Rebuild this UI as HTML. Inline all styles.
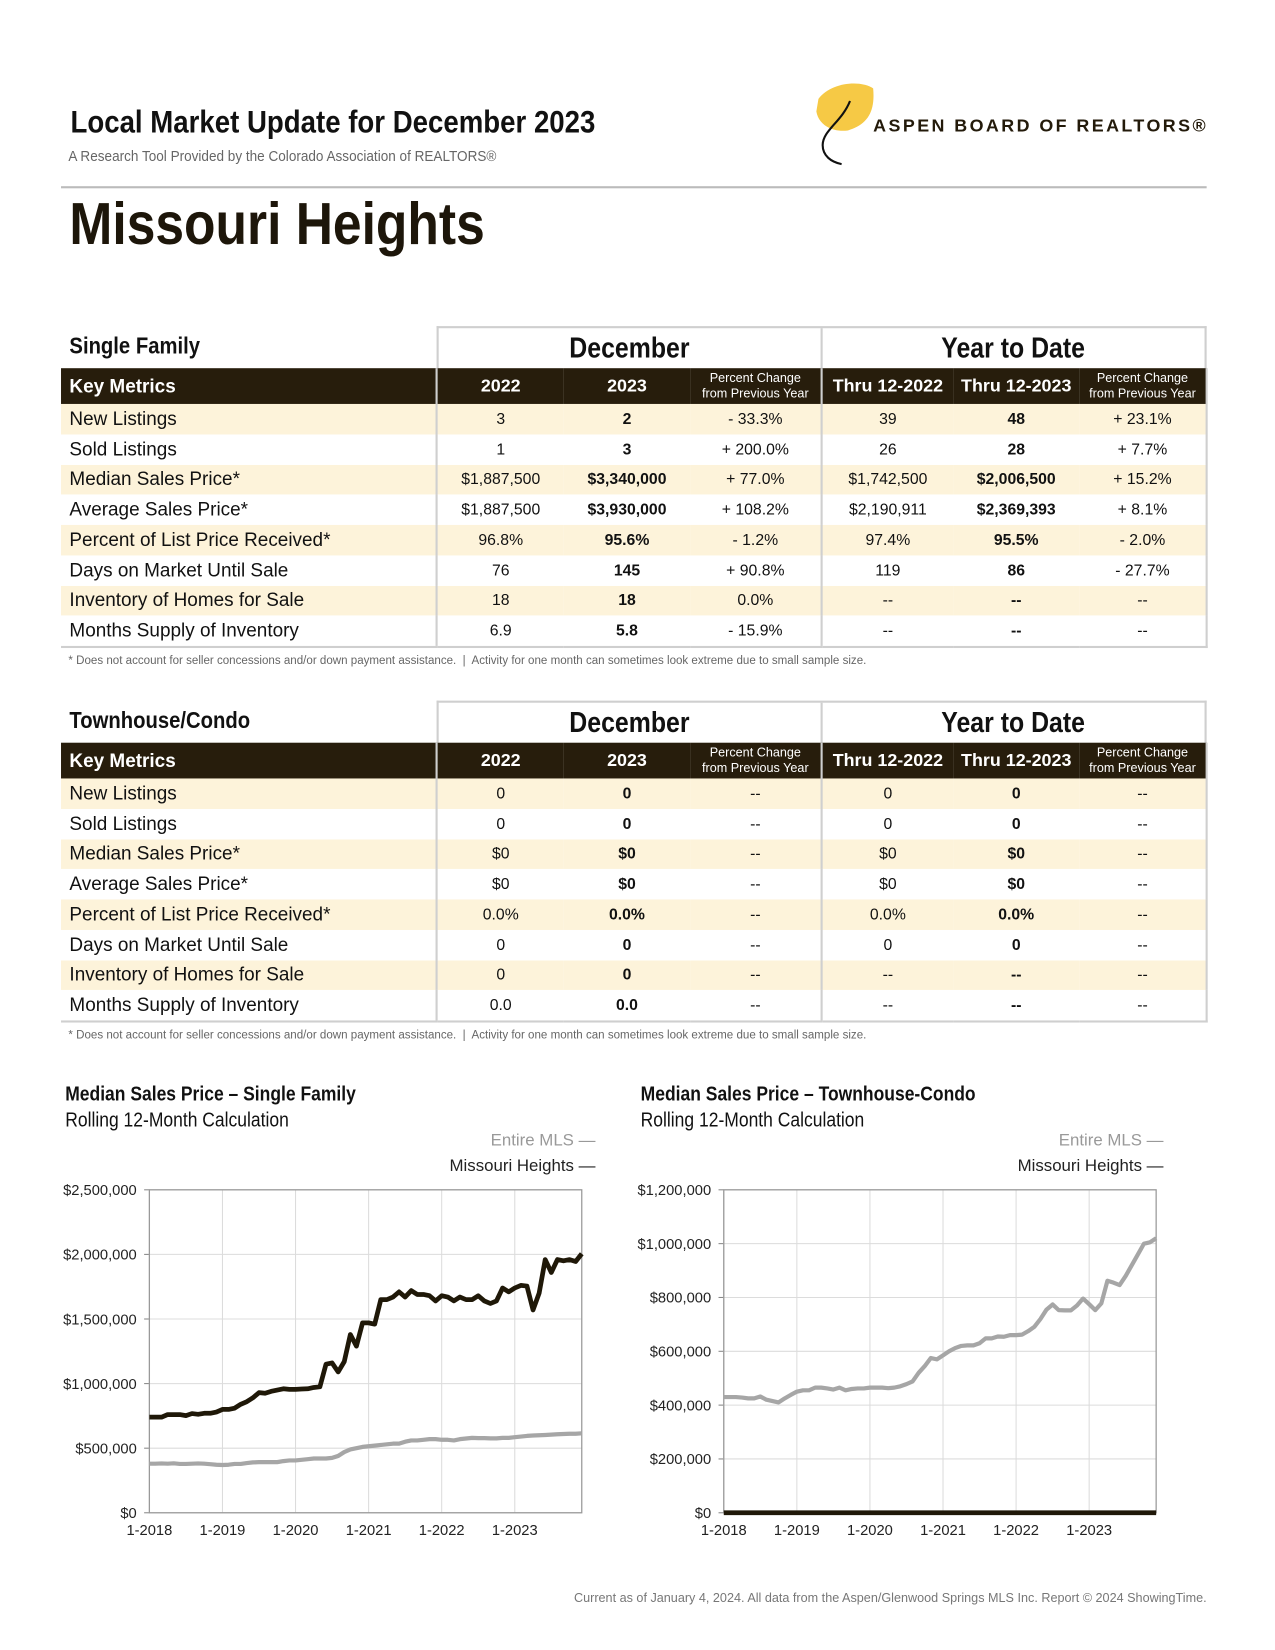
<!DOCTYPE html>
<html><head><meta charset="utf-8">
<style>
html,body{margin:0;padding:0;background:#fff;}
body{width:1275px;height:1650px;overflow:hidden;position:relative;}
#page{position:absolute;left:0;top:0;width:1212px;height:1568px;transform:scale(1.052);transform-origin:0 0;font-family:"Liberation Sans",Arial,sans-serif;color:#111;}
.nar{font-family:"Liberation Sans Narrow","Liberation Sans",Arial,sans-serif;transform:scaleX(0.875);transform-origin:0 0;white-space:nowrap;}
.abs{position:absolute;}
.sec{position:absolute;left:58px;width:1089px;}
.stitle{position:absolute;left:8px;top:6px;font-weight:bold;font-size:22px;}
.hbox{position:absolute;left:357px;top:0;width:728px;height:38px;border:2px solid #cfcfcf;border-bottom:none;display:flex;}
.hbox div{flex:1;text-align:center;font-weight:bold;font-size:27px;line-height:38px;}
.hbox div span{display:inline-block;transform:scaleX(0.875);}
.hbox div:first-child{border-right:2px solid #cfcfcf;}
table{position:absolute;left:0;top:40px;border-collapse:collapse;table-layout:fixed;width:1089px;}
td{padding:0;text-align:center;font-size:15px;height:28.75px;white-space:nowrap;}
td.l{text-align:left;padding-left:8px;font-size:18px;}
tr.hd td{background:#271d0c;color:#fff;height:34px;font-weight:bold;font-size:17px;}
tr.hd td.l{font-size:18px;}
tr.hd td.p{font-weight:normal;font-size:12px;line-height:15px;}
tr.c td{background:#fdf3da;}
td.b{font-weight:bold;}
td.v1{border-left:2px solid #cfcfcf;}
td.v2{border-left:2px solid #cfcfcf;}
td.v3{border-right:2px solid #cfcfcf;}
tr.last td{border-bottom:2px solid #cfcfcf;}
.foot{position:absolute;left:7px;top:312px;font-size:11px;color:#666;}
</style></head>
<body>
<div id="page">
 <div class="abs nar" style="left:67px;top:100px;font-size:30px;font-weight:bold;">Local Market Update for December 2023</div>
 <div class="abs nar" style="left:65px;top:140px;font-size:14px;color:#666;transform:scaleX(0.92);">A Research Tool Provided by the Colorado Association of REALTORS®</div>
 <svg class="abs" style="left:770px;top:76px" width="70" height="86">
  <path d="M8,18 C20,2 48,0 60,8 C62,30 55,42 36,48 C20,50 8,42 6,30 Z" fill="#f6c945"/>
  <path d="M38,20 C30,40 12,48 12,62 C12,72 20,78 30,80" stroke="#111" stroke-width="2" fill="none"/>
 </svg>
 <div class="abs" style="left:830px;top:110px;font-size:17px;font-weight:bold;letter-spacing:2.3px;color:#231a0a;white-space:nowrap;">ASPEN BOARD OF REALTORS®</div>
 <div class="abs" style="left:58px;top:177px;width:1089px;height:2px;background:#bbb;"></div>
 <div class="abs nar" style="left:66px;top:180px;font-size:56px;font-weight:bold;color:#1d160a;">Missouri Heights</div>

 <!-- Single family -->
 <div class="sec" style="top:310px">
  <div class="stitle nar">Single Family</div>
  <div class="hbox"><div><span>December</span></div><div><span>Year to Date</span></div></div>
  <table>
   <colgroup><col style="width:357px"><col style="width:121px"><col style="width:120px"><col style="width:125px"><col style="width:125px"><col style="width:120px"><col style="width:121px"></colgroup>
   <tr class="hd"><td class="l">Key Metrics</td><td class="v1">2022</td><td>2023</td><td class="p">Percent Change<br>from Previous Year</td><td class="v2">Thru 12-2022</td><td>Thru 12-2023</td><td class="p v3">Percent Change<br>from Previous Year</td></tr>
   <tr class="c"><td class="l">New Listings</td><td class="v1">3</td><td class="b">2</td><td>- 33.3%</td><td class="v2">39</td><td class="b">48</td><td class="v3">+ 23.1%</td></tr>
   <tr><td class="l">Sold Listings</td><td class="v1">1</td><td class="b">3</td><td>+ 200.0%</td><td class="v2">26</td><td class="b">28</td><td class="v3">+ 7.7%</td></tr>
   <tr class="c"><td class="l">Median Sales Price*</td><td class="v1">$1,887,500</td><td class="b">$3,340,000</td><td>+ 77.0%</td><td class="v2">$1,742,500</td><td class="b">$2,006,500</td><td class="v3">+ 15.2%</td></tr>
   <tr><td class="l">Average Sales Price*</td><td class="v1">$1,887,500</td><td class="b">$3,930,000</td><td>+ 108.2%</td><td class="v2">$2,190,911</td><td class="b">$2,369,393</td><td class="v3">+ 8.1%</td></tr>
   <tr class="c"><td class="l">Percent of List Price Received*</td><td class="v1">96.8%</td><td class="b">95.6%</td><td>- 1.2%</td><td class="v2">97.4%</td><td class="b">95.5%</td><td class="v3">- 2.0%</td></tr>
   <tr><td class="l">Days on Market Until Sale</td><td class="v1">76</td><td class="b">145</td><td>+ 90.8%</td><td class="v2">119</td><td class="b">86</td><td class="v3">- 27.7%</td></tr>
   <tr class="c"><td class="l">Inventory of Homes for Sale</td><td class="v1">18</td><td class="b">18</td><td>0.0%</td><td class="v2">--</td><td class="b">--</td><td class="v3">--</td></tr>
   <tr class="last"><td class="l">Months Supply of Inventory</td><td class="v1">6.9</td><td class="b">5.8</td><td>- 15.9%</td><td class="v2">--</td><td class="b">--</td><td class="v3">--</td></tr>
  </table>
  <div class="foot">* Does not account for seller concessions and/or down payment assistance. &nbsp;|&nbsp; Activity for one month can sometimes look extreme due to small sample size.</div>
 </div>

 <!-- Townhouse -->
 <div class="sec" style="top:666px">
  <div class="stitle nar">Townhouse/Condo</div>
  <div class="hbox"><div><span>December</span></div><div><span>Year to Date</span></div></div>
  <table>
   <colgroup><col style="width:357px"><col style="width:121px"><col style="width:120px"><col style="width:125px"><col style="width:125px"><col style="width:120px"><col style="width:121px"></colgroup>
   <tr class="hd"><td class="l">Key Metrics</td><td class="v1">2022</td><td>2023</td><td class="p">Percent Change<br>from Previous Year</td><td class="v2">Thru 12-2022</td><td>Thru 12-2023</td><td class="p v3">Percent Change<br>from Previous Year</td></tr>
   <tr class="c"><td class="l">New Listings</td><td class="v1">0</td><td class="b">0</td><td>--</td><td class="v2">0</td><td class="b">0</td><td class="v3">--</td></tr>
   <tr><td class="l">Sold Listings</td><td class="v1">0</td><td class="b">0</td><td>--</td><td class="v2">0</td><td class="b">0</td><td class="v3">--</td></tr>
   <tr class="c"><td class="l">Median Sales Price*</td><td class="v1">$0</td><td class="b">$0</td><td>--</td><td class="v2">$0</td><td class="b">$0</td><td class="v3">--</td></tr>
   <tr><td class="l">Average Sales Price*</td><td class="v1">$0</td><td class="b">$0</td><td>--</td><td class="v2">$0</td><td class="b">$0</td><td class="v3">--</td></tr>
   <tr class="c"><td class="l">Percent of List Price Received*</td><td class="v1">0.0%</td><td class="b">0.0%</td><td>--</td><td class="v2">0.0%</td><td class="b">0.0%</td><td class="v3">--</td></tr>
   <tr><td class="l">Days on Market Until Sale</td><td class="v1">0</td><td class="b">0</td><td>--</td><td class="v2">0</td><td class="b">0</td><td class="v3">--</td></tr>
   <tr class="c"><td class="l">Inventory of Homes for Sale</td><td class="v1">0</td><td class="b">0</td><td>--</td><td class="v2">--</td><td class="b">--</td><td class="v3">--</td></tr>
   <tr class="last"><td class="l">Months Supply of Inventory</td><td class="v1">0.0</td><td class="b">0.0</td><td>--</td><td class="v2">--</td><td class="b">--</td><td class="v3">--</td></tr>
  </table>
  <div class="foot">* Does not account for seller concessions and/or down payment assistance. &nbsp;|&nbsp; Activity for one month can sometimes look extreme due to small sample size.</div>
 </div>

 <!-- chart headings -->
 <div class="abs nar" style="left:62px;top:1030px;font-size:19px;font-weight:bold;">Median Sales Price – Single Family</div>
 <div class="abs nar" style="left:62px;top:1055px;font-size:19px;">Rolling 12-Month Calculation</div>
 <div class="abs nar" style="left:609px;top:1030px;font-size:19px;font-weight:bold;">Median Sales Price – Townhouse-Condo</div>
 <div class="abs nar" style="left:609px;top:1055px;font-size:19px;">Rolling 12-Month Calculation</div>

 <svg id="charts" class="abs" style="left:0;top:1070px" width="1212" height="420" viewBox="0 1070 1212 420"></svg>

 <div class="abs" style="right:65px;top:1512px;font-size:12px;color:#777;">Current as of January 4, 2024. All data from the Aspen/Glenwood Springs MLS Inc. Report © 2024 ShowingTime.</div>
</div>
<script>
// values in $ thousands, monthly Jan 2018 - Dec 2023
const sfLocal = [740,740,740,760,760,760,752,768,762,770,770,780,
 800,800,810,840,860,890,930,925,940,950,960,955,
 955,958,960,970,975,1150,1160,1090,1170,1380,1290,1470,
 1470,1460,1650,1650,1670,1710,1670,1720,1690,1690,1680,1640,
 1680,1670,1640,1670,1650,1650,1680,1640,1620,1640,1740,1710,
 1740,1760,1755,1570,1700,1960,1860,1960,1950,1960,1945,2005];
const sfMLS = [380,380,382,380,383,378,378,380,382,380,376,372,
 370,372,378,378,385,390,392,392,392,392,400,405,
 405,410,415,420,420,420,425,440,470,490,500,510,
 515,520,525,530,535,535,550,560,560,565,570,570,
 565,565,560,570,575,580,578,578,576,576,580,580,
 585,590,595,598,600,602,605,608,610,612,612,615];
const thMLS = [430,430,430,428,425,425,432,420,415,410,425,438,
 450,455,455,465,465,462,458,465,455,460,462,462,
 465,465,465,463,465,470,478,488,520,545,575,570,
 585,600,612,620,622,622,630,648,648,655,654,660,
 660,662,675,691,720,755,774,753,752,752,770,796,
 775,753,778,862,855,846,880,920,960,1000,1005,1020];
const thLocal = [0,0,0,0,0,0,0,0,0,0,0,0,0,0,0,0,0,0,0,0,0,0,0,0,
 0,0,0,0,0,0,0,0,0,0,0,0,0,0,0,0,0,0,0,0,0,0,0,0,
 0,0,0,0,0,0,0,0,0,0,0,0,0,0,0,0,0,0,0,0,0,0,0,0];
const xTickLabels = ["1-2018","1-2019","1-2020","1-2021","1-2022","1-2023"];
const sfYTicks = [0,500,1000,1500,2000,2500];
const sfYLabels = ["$0","$500,000","$1,000,000","$1,500,000","$2,000,000","$2,500,000"];
const thYTicks = [0,200,400,600,800,1000,1200];
const thYLabels = ["$0","$200,000","$400,000","$600,000","$800,000","$1,000,000","$1,200,000"];

const NS="http://www.w3.org/2000/svg";
const svg=document.getElementById('charts');
function mk(tag,attrs,parent){const e=document.createElementNS(NS,tag);for(const k in attrs)e.setAttribute(k,attrs[k]);(parent||svg).appendChild(e);return e;}

function drawChart(key,L,R,T,B,maxV,yTicks,yLabels,mls,local,legendRight){
  const g=mk('g',{});
  
  
  const n=mls.length;
  const x=i=>L+i*(R-L)/(n-1);
  const y=v=>B-v/maxV*(B-T);
  yTicks.forEach((t,i)=>{
    const ln=mk('line',{x1:L,x2:R,y1:y(t),y2:y(t),stroke:'#dcdcdc','stroke-width':1},g);
    
    
    mk('line',{x1:L-5,x2:L,y1:y(t),y2:y(t),stroke:'#888','stroke-width':1},g);
    const tx=mk('text',{x:L-12,y:y(t)+5,'text-anchor':'end','font-size':14,fill:'#222','font-family':'Liberation Sans, sans-serif'},g);
    tx.textContent=yLabels[i];
    
    
  });
  xTickLabels.forEach((lab,i)=>{
    const xx=x(i*12);
    const ln=mk('line',{x1:xx,x2:xx,y1:T,y2:B,stroke:'#dcdcdc','stroke-width':1},g);
    
    
    const tx=mk('text',{x:xx,y:B+21,'text-anchor':'middle','font-size':14,fill:'#222','font-family':'Liberation Sans, sans-serif'},g);
    tx.textContent=lab;
    
    
  });
  const fr=mk('rect',{x:L,y:T,width:R-L,height:B-T,fill:'none',stroke:'#999','stroke-width':1.2},g);
  
  
  const p1=mk('polyline',{points:mls.map((v,i)=>x(i)+','+y(v)).join(' '),fill:'none',stroke:'#a6a6a6','stroke-width':4,'stroke-linejoin':'round'},g);
  
  
  const p2=mk('polyline',{points:local.map((v,i)=>x(i)+','+y(v)).join(' '),fill:'none',stroke:'#1f1808','stroke-width':4.5,'stroke-linejoin':'round'},g);
  
  
  const l1=mk('text',{x:legendRight,y:1089,'text-anchor':'end','font-size':16,fill:'#999','font-family':'Liberation Sans, sans-serif'},g);
  l1.textContent='Entire MLS  —';
  
  
  const l2=mk('text',{x:legendRight,y:1113,'text-anchor':'end','font-size':16,fill:'#222','font-family':'Liberation Sans, sans-serif'},g);
  l2.textContent='Missouri Heights  —';
  
  
}
drawChart('sf',142,553,1131,1438,2500,sfYTicks,sfYLabels,sfMLS,sfLocal,566);
drawChart('th',688,1099,1131,1438,1200,thYTicks,thYLabels,thMLS,thLocal,1106);
</script>
</body></html>
